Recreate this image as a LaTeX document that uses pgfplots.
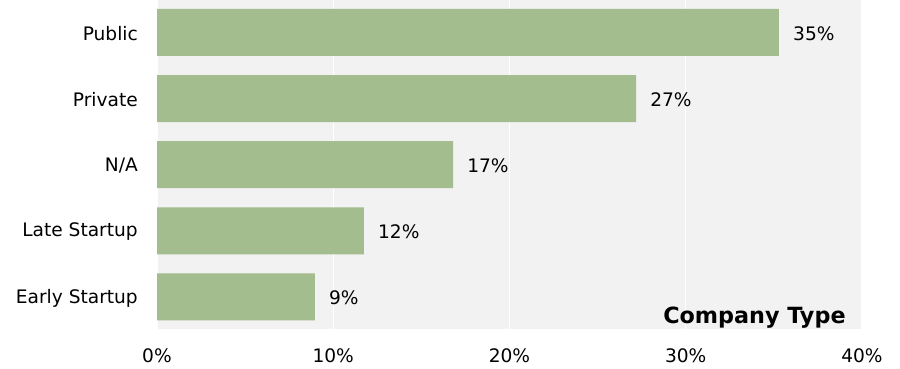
\documentclass[border=0pt]{standalone}
\usepackage{fontspec}
\setmainfont{DejaVu Sans}
\usepackage{pgfplots}
\pgfplotsset{compat=1.18}
\definecolor{bargreen}{HTML}{A3BD8F}
\definecolor{bgray}{HTML}{F2F2F2}
\begin{document}
\fontsize{18.6bp}{22bp}\selectfont
\begin{tikzpicture}
\useasboundingbox (0,0) rectangle (900bp,369bp);
\begin{axis}[
  at={(157bp,40bp)}, anchor=south west,
  scale only axis, width=705bp, height=329bp,
  xmin=0, xmax=40, ymin=-0.485, ymax=4.49,
  xbar, bar width=47bp,
  axis line style={draw=none},
  axis background/.style={fill=bgray},
  major tick length=0pt,
  xtick={0,10,20,30,40},
  xticklabels={0\%,10\%,20\%,30\%,40\%},
  ytick={0,1,2,3,4},
  yticklabels={Early Startup,Late Startup,N/A,Private,Public},
  xmajorgrids, grid style={white, line width=1.2bp},
  yticklabel style={inner sep=0pt, xshift=-19bp, yshift=-1bp},
  xticklabel style={inner sep=0pt, yshift=-19bp},
  /pgf/number format/assume math mode=true,
  nodes near coords={\pgfmathprintnumber[fixed,precision=0]{\pgfplotspointmeta}\%},
  point meta=x,
  every node near coord/.append style={anchor=west, inner sep=0pt, xshift=14bp, yshift=-1bp},
  clip=false,
]
\addplot[fill=bargreen, draw=none] coordinates {
(8.96,0) (11.74,1) (16.8,2) (27.18,3) (35.29,4)};
\node[anchor=base east, font=\fontsize{22.3bp}{26bp}\selectfont\bfseries, inner sep=0pt] at (rel axis cs:0.977,0) [yshift=5bp] {Company Type};
\end{axis}
\end{tikzpicture}
\end{document}
